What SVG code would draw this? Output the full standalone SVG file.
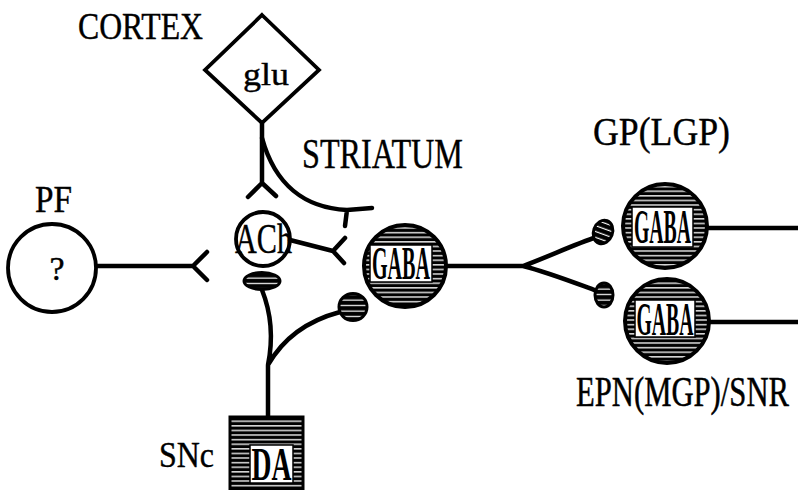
<svg xmlns="http://www.w3.org/2000/svg" width="798" height="490" viewBox="0 0 798 490">
  <defs>
    <pattern id="hatch" patternUnits="userSpaceOnUse" width="10" height="4.6">
      <rect width="10" height="4.6" fill="#000"/>
      <rect y="2" width="10" height="1.3" fill="#fff"/>
    </pattern>
    <pattern id="hatchSparse" patternUnits="userSpaceOnUse" width="10" height="5.5">
      <rect width="10" height="5.5" fill="#000"/>
      <rect y="2.5" width="10" height="1.2" fill="#fff"/>
    </pattern>
    <style>
      .lbl { font-family: "Liberation Serif", "Times New Roman", serif; fill: #000; stroke: #000; stroke-width: 0.4; }
      .ax { fill: none; stroke: #000; stroke-width: 4.5; stroke-linecap: round; stroke-linejoin: round; }
      .thin { fill: none; stroke: #000; stroke-width: 3.8; }
      .cell { fill: url(#hatch); stroke: #000; stroke-width: 4; }
      .bouton { fill: url(#hatchSparse); stroke: #000; stroke-width: 3; }
      .tag { fill: #fff; stroke: #000; stroke-width: 1.5; }
      .tagtxt { font-family: "Liberation Serif", "Times New Roman", serif; font-weight: bold; fill: #000; }
    </style>
  </defs>

  <!-- connectors -->
  <g id="connectors">
    <!-- cortical glutamate axon -->
    <path class="ax" d="M262,123 L262,183 M262,183 L248,197 M262,183 L276,196"/>
    <path class="ax" d="M262,138 C275,185 305,208 347,210 L372,208 M347,210 L345,226"/>
    <!-- PF afferent -->
    <path class="ax" d="M97,266 L193,266 M193,266 L207,252 M193,266 L207,280"/>
    <!-- cholinergic interneuron onto GABA cell -->
    <path class="ax" d="M290,240 L333,251 M333,251 L345,238 M333,251 L344,263"/>
    <!-- nigral dopamine axon -->
    <path class="ax" d="M268,417 L268,365 M268,365 C273,340 272,315 262,290 M268,365 C285,335 310,320 340,312"/>
    <!-- striatal output -->
    <path class="ax" d="M447,266 L523,266 M523,266 C550,256 575,244 597,237 M523,266 C550,273 575,283 597,291"/>
    <!-- GP / EPN outputs -->
    <path class="ax" d="M707,228 L798,228"/>
    <path class="ax" d="M709,322 L798,322"/>
  </g>

  <!-- cortex -->
  <g id="cortex">
    <polygon class="thin" points="262,15 319,70 262,123 205,70"/>
    <text class="lbl" x="266" y="85" font-size="32" text-anchor="middle" textLength="46" lengthAdjust="spacingAndGlyphs">glu</text>
    <text class="lbl" x="78" y="39" font-size="37" textLength="125" lengthAdjust="spacingAndGlyphs">CORTEX</text>
  </g>

  <text class="lbl" x="302" y="168" font-size="43" textLength="161" lengthAdjust="spacingAndGlyphs">STRIATUM</text>

  <!-- parafascicular nucleus -->
  <g id="pf">
    <circle class="thin" cx="52" cy="268" r="44"/>
    <text class="lbl" x="57" y="280" font-size="34" text-anchor="middle">?</text>
    <text class="lbl" x="35" y="212" font-size="37" textLength="37" lengthAdjust="spacingAndGlyphs">PF</text>
  </g>

  <!-- cholinergic interneuron -->
  <g id="ach">
    <circle class="thin" cx="263" cy="239" r="27"/>
    <text class="lbl" x="235" y="253" font-size="43" textLength="57" lengthAdjust="spacingAndGlyphs">ACh</text>
  </g>

  <!-- presynaptic boutons -->
  <g id="bouton-ach">
    <ellipse class="bouton" cx="262" cy="281" rx="18" ry="8.5"/>
  </g>
  <g id="bouton-gaba">
    <ellipse class="bouton" cx="353" cy="307" rx="14" ry="13.5"/>
  </g>
  <g id="bouton-gp">
    <ellipse class="bouton" cx="603" cy="232" rx="9.5" ry="12" transform="rotate(20 603 232)"/>
  </g>
  <g id="bouton-epn">
    <ellipse class="bouton" cx="604" cy="295" rx="9" ry="12"/>
  </g>

  <!-- striatal projection neuron -->
  <g id="striatum-gaba">
    <circle class="cell" cx="405" cy="266" r="41"/>
    <rect class="tag" x="370" y="245" width="62" height="37"/>
    <text class="tagtxt" x="401" y="279" font-size="46" text-anchor="middle" textLength="58" lengthAdjust="spacingAndGlyphs">GABA</text>
  </g>

  <!-- globus pallidus -->
  <g id="gp">
    <circle class="cell" cx="665" cy="226" r="42"/>
    <rect class="tag" x="632" y="207" width="61" height="40"/>
    <text class="tagtxt" x="662.5" y="243" font-size="48" text-anchor="middle" textLength="57" lengthAdjust="spacingAndGlyphs">GABA</text>
    <text class="lbl" x="593" y="145" font-size="41" textLength="137" lengthAdjust="spacingAndGlyphs">GP(LGP)</text>
  </g>

  <!-- entopeduncular nucleus / substantia nigra reticulata -->
  <g id="epn">
    <circle class="cell" cx="667" cy="321" r="42"/>
    <rect class="tag" x="635" y="300" width="60" height="37"/>
    <text class="tagtxt" x="665" y="335" font-size="46" text-anchor="middle" textLength="57" lengthAdjust="spacingAndGlyphs">GABA</text>
    <text class="lbl" transform="translate(576,406) scale(1,1.3)" x="0" y="0" font-size="32" textLength="213" lengthAdjust="spacingAndGlyphs">EPN(MGP)/SNR</text>
  </g>

  <!-- substantia nigra pars compacta -->
  <g id="snc">
    <rect x="230" y="417" width="73" height="73" fill="url(#hatch)" stroke="#000" stroke-width="3"/>
    <rect class="tag" x="250" y="445" width="43" height="38"/>
    <text class="tagtxt" x="271.5" y="480" font-size="46" text-anchor="middle" textLength="40" lengthAdjust="spacingAndGlyphs">DA</text>
    <text class="lbl" x="159" y="467" font-size="35" textLength="55" lengthAdjust="spacingAndGlyphs">SNc</text>
  </g>
</svg>
